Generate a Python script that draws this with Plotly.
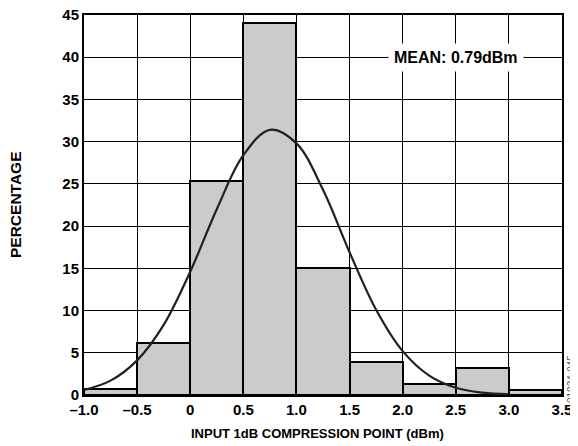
import plotly.graph_objects as go

# histogram bins (left edges, 0.5 dBm wide) and percentages
bin_edges = [-1.0, -0.5, 0.0, 0.5, 1.0, 1.5, 2.0, 2.5, 3.0]
percent = [0.7, 6.1, 25.3, 44.0, 15.0, 3.9, 1.3, 3.2, 0.6]

# fitted normal curve
curve_x = [-1.0, -0.75, -0.5, -0.25, 0.0, 0.25, 0.5, 0.75, 1.0, 1.25,
           1.5, 1.75, 2.0, 2.25, 2.5, 2.75, 3.0]
curve_y = [0.6, 1.7, 4.1, 8.3, 14.6, 22.0, 28.4, 31.4, 29.8, 24.3,
           16.9, 10.1, 5.2, 2.3, 0.86, 0.28, 0.08]

x_ticks = [-1.0, -0.5, 0, 0.5, 1.0, 1.5, 2.0, 2.5, 3.0, 3.5]
x_ticktext = ['–1.0', '–0.5', '0', '0.5', '1.0', '1.5', '2.0', '2.5', '3.0', '3.5']
y_ticks = [0, 5, 10, 15, 20, 25, 30, 35, 40, 45]

bin_width = 0.5
font = 'Liberation Sans, Arial, sans-serif'

fig = go.Figure()

fig.add_trace(go.Bar(
    x=[e + bin_width / 2 for e in bin_edges],
    y=percent,
    width=bin_width,
    marker=dict(color='#cbcbcb', line=dict(color='#000000', width=2)),
    showlegend=False,
))

fig.add_trace(go.Scatter(
    x=curve_x,
    y=curve_y,
    mode='lines',
    line=dict(color='#231f20', width=2.2, shape='spline', smoothing=1.0),
    showlegend=False,
))

fig.add_annotation(
    x=2.5, y=40, xref='x', yref='y',
    text='<b>MEAN: 0.79dBm</b>',
    showarrow=False,
    font=dict(family=font, size=16, color='#000000'),
    bgcolor='#ffffff',
    borderpad=5,
)

# axis titles as paper annotations so the plot area stays put
fig.add_annotation(
    x=0, y=0.5, xref='paper', yref='paper',
    xshift=-69, xanchor='center', yanchor='middle',
    text='<b>PERCENTAGE</b>',
    textangle=-90,
    showarrow=False,
    font=dict(family=font, size=15.5, color='#000000'),
)

fig.add_annotation(
    x=0.5, y=0, xref='paper', yref='paper',
    xshift=-6, yshift=-38, xanchor='center', yanchor='middle',
    text='<b>INPUT 1dB COMPRESSION POINT (dBm)</b>',
    showarrow=False,
    font=dict(family=font, size=13, color='#000000'),
)

fig.add_annotation(
    x=1.0, y=0, xref='paper', yref='paper',
    xshift=9, yshift=-10,
    xanchor='center', yanchor='bottom',
    text='01034-045',
    textangle=-90,
    showarrow=False,
    font=dict(family=font, size=10, color='#555555'),
)

fig.update_xaxes(
    range=[-1.0, 3.5],
    tickvals=x_ticks,
    ticktext=x_ticktext,
    showgrid=True, gridcolor='#000000', gridwidth=1,
    showline=True, linecolor='#000000', linewidth=2, mirror=True,
    ticks='', zeroline=False, automargin=False, ticklabeloverflow='allow',
    tickfont=dict(family=font, size=15, color='#000000', weight='bold'),
)

fig.update_yaxes(
    range=[0, 45],
    tickvals=y_ticks,
    showgrid=True, gridcolor='#000000', gridwidth=1,
    showline=True, linecolor='#000000', linewidth=2, mirror=True,
    ticks='', zeroline=False, automargin=False, ticklabeloverflow='allow',
    tickfont=dict(family=font, size=15, color='#000000', weight='bold'),
)

# the page body has an 8px margin, so the figure is 8px smaller each way
fig.update_layout(
    width=570,
    height=438,
    margin=dict(l=76, r=16, t=7, b=51),
    plot_bgcolor='#ffffff',
    paper_bgcolor='#ffffff',
    bargap=0,
)

fig.write_html('out.html')
